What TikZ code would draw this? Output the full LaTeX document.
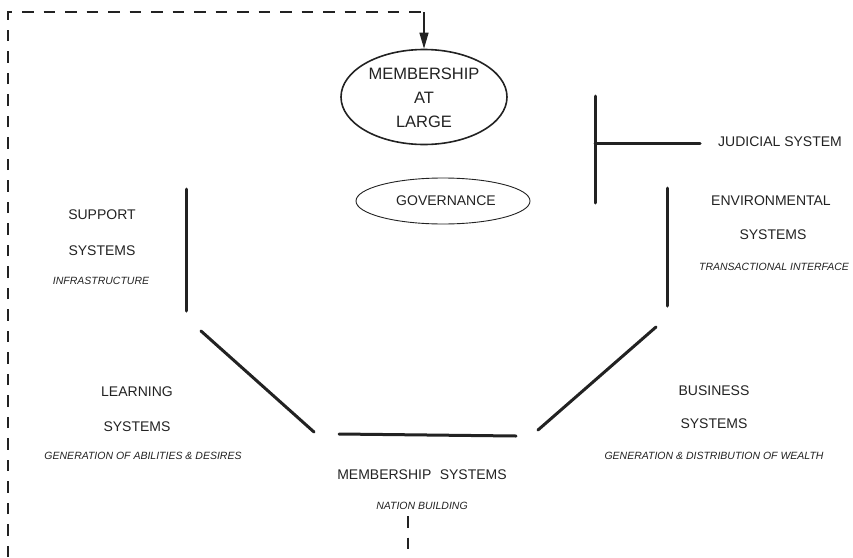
\documentclass[tikz,border=0pt]{standalone}
\usepackage{fontspec}
\setmainfont{Liberation Sans}
\usetikzlibrary{shapes.geometric,arrows.meta}
\definecolor{ink}{HTML}{222222}
\begin{document}
\begin{tikzpicture}[x=1pt,y=-1pt,
  heavy/.style={line width=3pt,line cap=round,draw=ink},
  loop/.style={line width=1.8pt,draw=ink,dash pattern=on 11.5pt off 10pt},
  title/.style={font=\fontsize{14}{16}\selectfont,text=ink,inner sep=0pt},
  sub/.style={font=\fontsize{10.5}{12}\selectfont\itshape,text=ink,inner sep=0pt},
  oval/.style={ellipse,draw=ink,inner sep=0pt}]
\useasboundingbox (0,0) rectangle (853,557);
% ellipses
\node[oval,line width=1.6pt,minimum width=166pt,minimum height=95pt] (mal) at (424,97) {};
\node[title,font=\fontsize{16.5}{18}\selectfont] at (424,74) {MEMBERSHIP};
\node[title,font=\fontsize{16.5}{18}\selectfont] at (424,98) {AT};
\node[title,font=\fontsize{16.5}{18}\selectfont] at (424,122) {LARGE};
\node[oval,line width=0.9pt,minimum width=174pt,minimum height=46pt] (gov) at (443,201) {};
\node[title] at (446,201) {GOVERNANCE};
% dashed feedback loop
\coordinate (bl) at (8,557);
\coordinate (tl) at (8,12);
\coordinate (tr) at (424,12);
\coordinate (nb) at (408,516);
\coordinate (nbend) at (408,557);
\draw[loop] (bl) -- (tl) -- (tr);
\draw[line width=1.3pt,draw=ink,-{Triangle[length=16pt,width=9pt]}] (tr) -- (mal.north);
\draw[loop] (nb) -- (nbend);
% judicial
\draw[heavy] (595,96) -- (595,203);
\draw[heavy] (595,143) -- (700,143);
\node[title] at (780,142) {JUDICIAL SYSTEM};
% octagon segments
\draw[heavy] (186,189) -- (186,311);
\draw[heavy] (201,331) -- (314,432);
\draw[heavy] (339,434) -- (516,436);
\draw[heavy] (538,430) -- (656,327);
\draw[heavy] (667,188) -- (667,306);
% labels
\node[title] at (102,215) {SUPPORT};
\node[title] at (102,251) {SYSTEMS};
\node[sub] at (101,281) {INFRASTRUCTURE};
\node[title] at (137,392) {LEARNING};
\node[title] at (137,427) {SYSTEMS};
\node[sub] at (143,456) {GENERATION OF ABILITIES \& DESIRES};
\node[title] at (422,475) {MEMBERSHIP\hspace{0.6em}SYSTEMS};
\node[sub] at (422,506) {NATION BUILDING};
\node[title] at (714,391) {BUSINESS};
\node[title] at (714,424) {SYSTEMS};
\node[sub] at (714,456) {GENERATION \& DISTRIBUTION OF WEALTH};
\node[title] at (771,201) {ENVIRONMENTAL};
\node[title] at (773,235) {SYSTEMS};
\node[sub] at (774,267) {TRANSACTIONAL INTERFACE};
\end{tikzpicture}
\end{document}
